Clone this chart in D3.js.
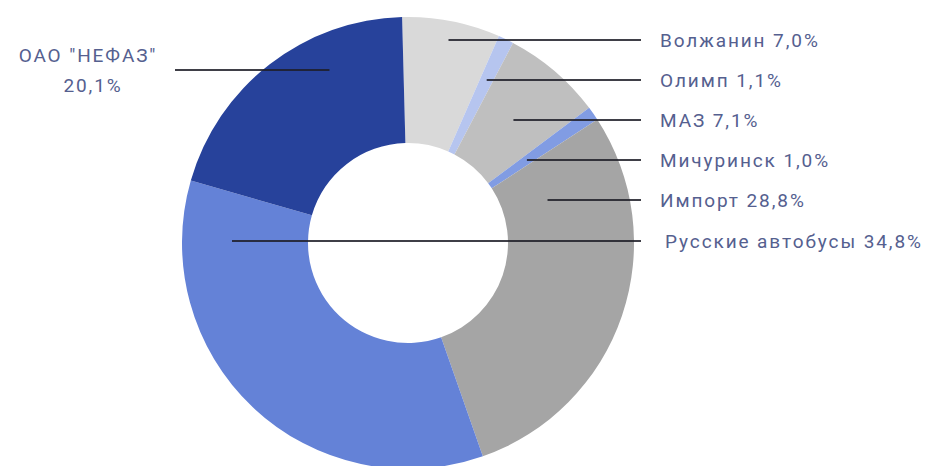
<!DOCTYPE html>
<html>
<head>
<meta charset="utf-8">
<script src="https://cdn.jsdelivr.net/npm/d3@7"></script>
<style>
  body { margin: 0; background: #fff; }
  svg text { font-family: Roboto, "DejaVu Sans", sans-serif; }
</style>
</head>
<body>
<div id="chart"></div>
<script>
// slices, clockwise from 12 o'clock
var names = ["Волжанин", "Олимп", "МАЗ", "Мичуринск", "Импорт", "Русские автобусы", "ОАО \"НЕФАЗ\""]
var shares = [7.0, 1.1, 7.1, 1.0, 28.8, 34.8, 20.1]
var colors = ["#d9d9d9", "#b6c5ef", "#bfbfbf", "#819ce3", "#a5a5a5", "#6482d7", "#27429b"]

// leader rows: y of the label row and radius where the line starts inside the slice
var rowY = [40, 80, 120, 160, 200, 241, 70]
var rowR = [207, 181, 162, 145, 146, 176, 190]

var width = 927, height = 466
var cx = 408, cy = 243
var outerR = 226, innerR = 100
var lineEnd = 641, labelX = 660

var svg = d3.select("#chart").append("svg")
  .attr("width", width)
  .attr("height", height)

var offset = -1.5 * Math.PI / 180

var pie = d3.pie()
  .sort(null)
  .value(function(d) { return d })
  .startAngle(offset)
  .endAngle(offset + 2 * Math.PI)

var arc = d3.arc().innerRadius(innerR).outerRadius(outerR)

var g = svg.append("g").attr("transform", "translate(" + cx + "," + cy + ")")

g.selectAll("path")
  .data(pie(shares))
  .enter()
  .append("path")
    .attr("d", arc)
    .style("fill", function(d, i) { return colors[i] })

function fmt(v) { return v.toFixed(1).replace(".", ",") + "%" }

// leader lines
var lines = svg.append("g")
names.forEach(function(n, i) {
  var dy = rowY[i] - cy
  var dx = Math.sqrt(rowR[i] * rowR[i] - dy * dy)
  var left = i == 5 || i == 6
  var x0 = left ? cx - dx : cx + dx
  var x1 = i == 6 ? 175 : lineEnd
  lines.append("line")
    .attr("x1", x0).attr("x2", x1)
    .attr("y1", rowY[i]).attr("y2", rowY[i])
    .style("stroke", "#1e1e28")
    .style("stroke-width", 2)
    .style("opacity", 0.85)
})

// right labels
var labels = svg.append("g")
  .style("font-size", "19px")
  .style("fill", "#55608f")
  .style("letter-spacing", "1.9px")

names.slice(0, 6).forEach(function(n, i) {
  labels.append("text")
    .attr("x", i == 5 ? labelX + 5 : labelX)
    .attr("y", rowY[i])
    .attr("dy", "0.35em")
    .text(n + " " + fmt(shares[i]))
})

// left label for НЕФАЗ
labels.append("text")
  .attr("x", 88).attr("y", 55).attr("dy", "0.35em")
  .attr("text-anchor", "middle")
  .text(names[6])
labels.append("text")
  .attr("x", 93).attr("y", 85).attr("dy", "0.35em")
  .attr("text-anchor", "middle")
  .text(fmt(shares[6]))
</script>
</body>
</html>
